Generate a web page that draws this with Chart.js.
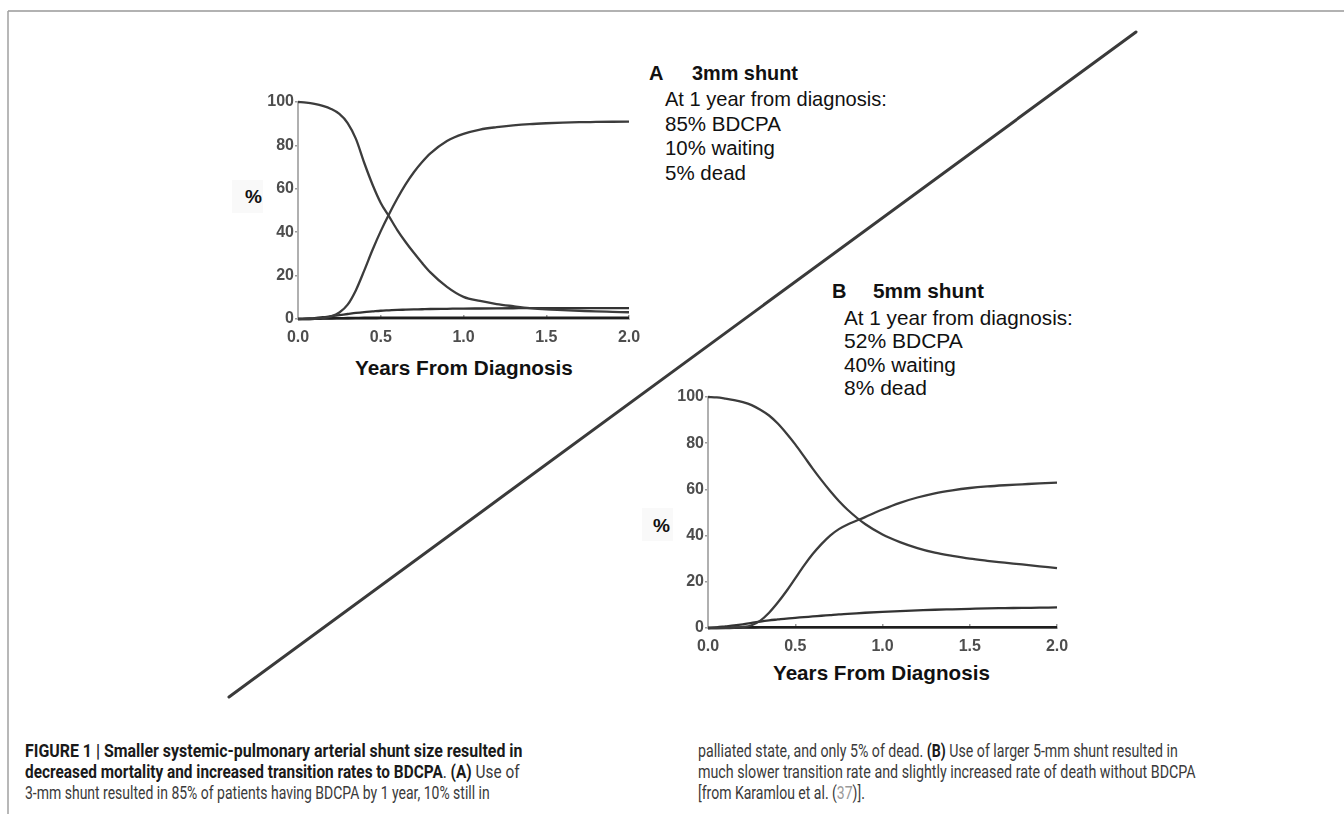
<!DOCTYPE html>
<html>
<head>
<meta charset="utf-8">
<script src="https://cdn.jsdelivr.net/npm/chart.js@4.4.1/dist/chart.umd.min.js"></script>
<style>
  html, body { margin: 0; padding: 0; background: #fff; }
  body { width: 1344px; height: 814px; position: relative; overflow: hidden; }
  #page { position: absolute; left: 0; top: 0; }
  .panel { position: absolute; }
  .panel canvas { filter: blur(0.45px); }
  .txt { font-family: "Liberation Sans", Arial, sans-serif; fill: #111; }
  .cap { font-family: "Liberation Sans Narrow", Roboto, "Liberation Sans", Arial, sans-serif; font-size: 18.5px; }
  .capB { font-weight: 700; fill: #1a1a1a; }
  .capL { font-weight: 400; fill: #3a3a3a; }
</style>
</head>
<body>

<svg id="page" width="1344" height="814">
  <!-- figure frame -->
  <line x1="8" y1="11" x2="1344" y2="11" stroke="#b2b2b2" stroke-width="2"/>
  <line x1="8" y1="11" x2="8" y2="814" stroke="#a0a0a0" stroke-width="1.5"/>
  <!-- divider between the two panels -->
  <line x1="229" y1="697" x2="1136" y2="32" stroke="#3a3a3a" stroke-width="3" stroke-linecap="round"/>

  <!-- axis labels, panel A -->
  <rect x="232" y="180" width="31" height="33" fill="#f9f9f9"/>
  <text class="txt" x="245" y="203.5" font-size="19" font-weight="700" data-w="17">%</text>
  <text class="txt" x="355" y="375" font-size="19.5" font-weight="700" data-w="218">Years From Diagnosis</text>

  <!-- axis labels, panel B -->
  <rect x="642" y="508" width="31" height="33" fill="#f9f9f9"/>
  <text class="txt" x="653" y="532" font-size="19" font-weight="700" data-w="17">%</text>
  <text class="txt" x="773" y="680.5" font-size="19.5" font-weight="700" data-w="217">Years From Diagnosis</text>

  <!-- panel A summary -->
  <text class="txt" x="649" y="80" font-size="20" font-weight="700">A</text>
  <text class="txt" x="692" y="80" font-size="20" font-weight="700" data-w="106">3mm shunt</text>
  <text class="txt" x="665" y="106" font-size="20" data-w="222">At 1 year from diagnosis:</text>
  <text class="txt" x="665" y="131" font-size="20" data-w="116">85% BDCPA</text>
  <text class="txt" x="665" y="155" font-size="20" data-w="110">10% waiting</text>
  <text class="txt" x="665" y="180" font-size="20" data-w="81">5% dead</text>

  <!-- panel B summary -->
  <text class="txt" x="832" y="298.3" font-size="20" font-weight="700">B</text>
  <text class="txt" x="873" y="298.3" font-size="20" font-weight="700" data-w="111">5mm shunt</text>
  <text class="txt" x="844" y="325" font-size="20" data-w="229">At 1 year from diagnosis:</text>
  <text class="txt" x="844" y="348.3" font-size="20" data-w="119">52% BDCPA</text>
  <text class="txt" x="844" y="371.7" font-size="20" data-w="112">40% waiting</text>
  <text class="txt" x="844" y="395" font-size="20" data-w="83">8% dead</text>

  <!-- caption, left column -->
  <text class="cap capB" x="25" y="757" data-w="498">FIGURE 1 | Smaller systemic-pulmonary arterial shunt size resulted in</text>
  <text class="cap" x="25" y="778" data-w="495"><tspan class="capB">decreased mortality and increased transition rates to BDCPA</tspan><tspan class="capL">. </tspan><tspan class="capB">(A)</tspan><tspan class="capL"> Use of</tspan></text>
  <text class="cap capL" x="25" y="799" data-w="465">3-mm shunt resulted in 85% of patients having BDCPA by 1 year, 10% still in</text>

  <!-- caption, right column -->
  <text class="cap" x="698" y="757" data-w="480"><tspan class="capL">palliated state, and only 5% of dead. </tspan><tspan class="capB">(B)</tspan><tspan class="capL"> Use of larger 5-mm shunt resulted in</tspan></text>
  <text class="cap capL" x="698" y="778" data-w="498">much slower transition rate and slightly increased rate of death without BDCPA</text>
  <text class="cap capL" x="698" y="799" data-w="167">[from Karamlou et al. (<tspan fill="#9a9a9a">37</tspan>)].</text>
</svg>

<div class="panel" style="left:240px;top:88px;width:409px;height:261px"><canvas id="chartA"></canvas></div>
<div class="panel" style="left:650px;top:383px;width:427px;height:275px"><canvas id="chartB"></canvas></div>

<script>
// Time since diagnosis (years) shared by every curve
const years = [0, 0.05, 0.1, 0.15, 0.2, 0.25, 0.3, 0.35, 0.4, 0.45, 0.5, 0.55, 0.6, 0.65, 0.7, 0.75, 0.8,
               0.9, 1.0, 1.1, 1.2, 1.3, 1.4, 1.5, 1.6, 1.7, 1.8, 1.9, 2.0];

// Panel A: 3mm shunt (% of patients in each state)
const waitingA = [100, 99.7, 99.1, 98.2, 96.8, 94.5, 90.3, 83, 72, 62, 53.5, 47.3, 41, 35.5, 30.5, 25.8, 21.5,
                  14.8, 10.2, 8.3, 6.9, 5.9, 5.0, 4.4, 4.1, 3.8, 3.5, 3.3, 3.1];
const bdcpaA   = [0, 0, 0.1, 0.4, 1.2, 3, 6.6, 13.3, 22.3, 31.8, 40.5, 48.3, 55.5, 62, 67.6, 72.3, 76.3,
                  82, 85.3, 87.3, 88.4, 89.2, 89.8, 90.2, 90.5, 90.7, 90.8, 90.9, 91];
const deadA    = [0, 0.2, 0.4, 0.8, 1.3, 1.8, 2.3, 2.8, 3.2, 3.5, 3.8, 4.0, 4.2, 4.3, 4.4, 4.5, 4.6,
                  4.7, 4.8, 4.85, 4.9, 4.95, 5.0, 5.0, 5.0, 5.0, 5.0, 5.0, 5.0];
const otherA   = [0, 0.05, 0.1, 0.2, 0.3, 0.35, 0.4, 0.45, 0.5, 0.5, 0.55, 0.55, 0.6, 0.6, 0.6, 0.6, 0.6,
                  0.6, 0.6, 0.6, 0.6, 0.6, 0.6, 0.6, 0.6, 0.6, 0.6, 0.6, 0.6];

// Panel B: 5mm shunt
const waitingB = [100, 99.8, 99.3, 98.7, 97.8, 96.5, 94.5, 92, 88.5, 84.2, 79.5, 74.3, 69, 64, 59.3, 55, 51.2,
                  45, 40.5, 37.2, 34.6, 32.6, 31.2, 30, 29.1, 28.3, 27.5, 26.7, 25.9];
const bdcpaB   = [0, 0, 0, 0.1, 0.4, 1.2, 3.2, 6.6, 11, 16, 21.5, 27, 32, 36.3, 40, 42.8, 44.8,
                  48, 51.3, 54.2, 56.5, 58.3, 59.6, 60.6, 61.3, 61.8, 62.2, 62.6, 62.9];
const deadB    = [0, 0.3, 0.7, 1.1, 1.6, 2.2, 2.8, 3.3, 3.7, 4.1, 4.4, 4.7, 5.0, 5.3, 5.6, 5.9, 6.1,
                  6.6, 7.0, 7.3, 7.6, 7.9, 8.1, 8.3, 8.5, 8.6, 8.7, 8.8, 8.9];
const otherB   = [0, 0.05, 0.1, 0.15, 0.2, 0.25, 0.3, 0.3, 0.3, 0.3, 0.3, 0.3, 0.3, 0.3, 0.3, 0.3, 0.3,
                  0.3, 0.3, 0.3, 0.3, 0.3, 0.3, 0.3, 0.3, 0.3, 0.3, 0.3, 0.3];

// Axis ticks
const yTicks = [0, 20, 40, 60, 80, 100];
const xTicks = [0, 0.5, 1.0, 1.5, 2.0];

const tickFont = { family: '"Liberation Sans", Arial, sans-serif', size: 16, weight: 'bold' };

function toPoints(vals) {
  return years.map((x, i) => ({ x, y: vals[i] }));
}

function curve(label, vals, color, width) {
  return {
    label,
    data: toPoints(vals),
    borderColor: color,
    borderWidth: width,
    pointRadius: 0,
    fill: false,
    cubicInterpolationMode: 'monotone',
    clip: 6
  };
}

function makeChart(id, waiting, bdcpa, dead, other) {
  return new Chart(document.getElementById(id), {
    type: 'line',
    data: {
      datasets: [
        curve('Waiting', waiting, '#3c3c3c', 2.3),
        curve('BDCPA', bdcpa, '#3c3c3c', 2.3),
        curve('Dead', dead, '#333333', 2.3),
        curve('Other', other, '#1e1e1e', 2.6)
      ]
    },
    options: {
      responsive: true,
      maintainAspectRatio: false,
      animation: false,
      events: [],
      layout: { padding: { top: 14, right: 20, left: 0, bottom: 0 } },
      plugins: { legend: { display: false }, tooltip: { enabled: false } },
      scales: {
        x: {
          type: 'linear',
          min: 0, max: 2,
          afterBuildTicks: (s) => { s.ticks = xTicks.map(v => ({ value: v })); },
          // tick marks point up into the plot, labels sit below the axis
          ticks: { font: tickFont, color: '#4d4d4d', padding: 13, maxRotation: 0,
                   callback: (v) => Number(v).toFixed(1) },
          grid: { drawOnChartArea: false, drawTicks: true, tickLength: -4, color: '#9a9a9a', lineWidth: 1.5 },
          border: { display: true, color: '#a8a8a8', width: 2 },
          afterFit: (s) => { s.height = 30; s.paddingLeft = 0; s.paddingRight = 0; s.paddingTop = 0; s.paddingBottom = 0; }
        },
        y: {
          type: 'linear',
          min: 0, max: 100,
          afterBuildTicks: (s) => { s.ticks = yTicks.map(v => ({ value: v })); },
          ticks: { font: tickFont, color: '#4d4d4d', padding: 1 },
          grid: { drawOnChartArea: false, drawTicks: true, tickLength: 3, color: '#9a9a9a', lineWidth: 1.5 },
          border: { display: true, color: '#b0b0b0', width: 2 },
          afterFit: (s) => { s.width = 58; s.paddingLeft = 0; s.paddingRight = 0; s.paddingTop = 0; s.paddingBottom = 0; }
        }
      }
    }
  });
}

makeChart('chartA', waitingA, bdcpaA, deadA, otherA);
makeChart('chartB', waitingB, bdcpaB, deadB, otherB);

// Fit each text line to its set width
document.querySelectorAll('#page text[data-w]').forEach((t) => {
  const w = parseFloat(t.dataset.w);
  const x = parseFloat(t.getAttribute('x'));
  const cur = t.getComputedTextLength();
  if (cur > 0) {
    const s = w / cur;
    t.setAttribute('transform', `translate(${x} 0) scale(${s} 1) translate(${-x} 0)`);
  }
});
</script>
</body>
</html>
